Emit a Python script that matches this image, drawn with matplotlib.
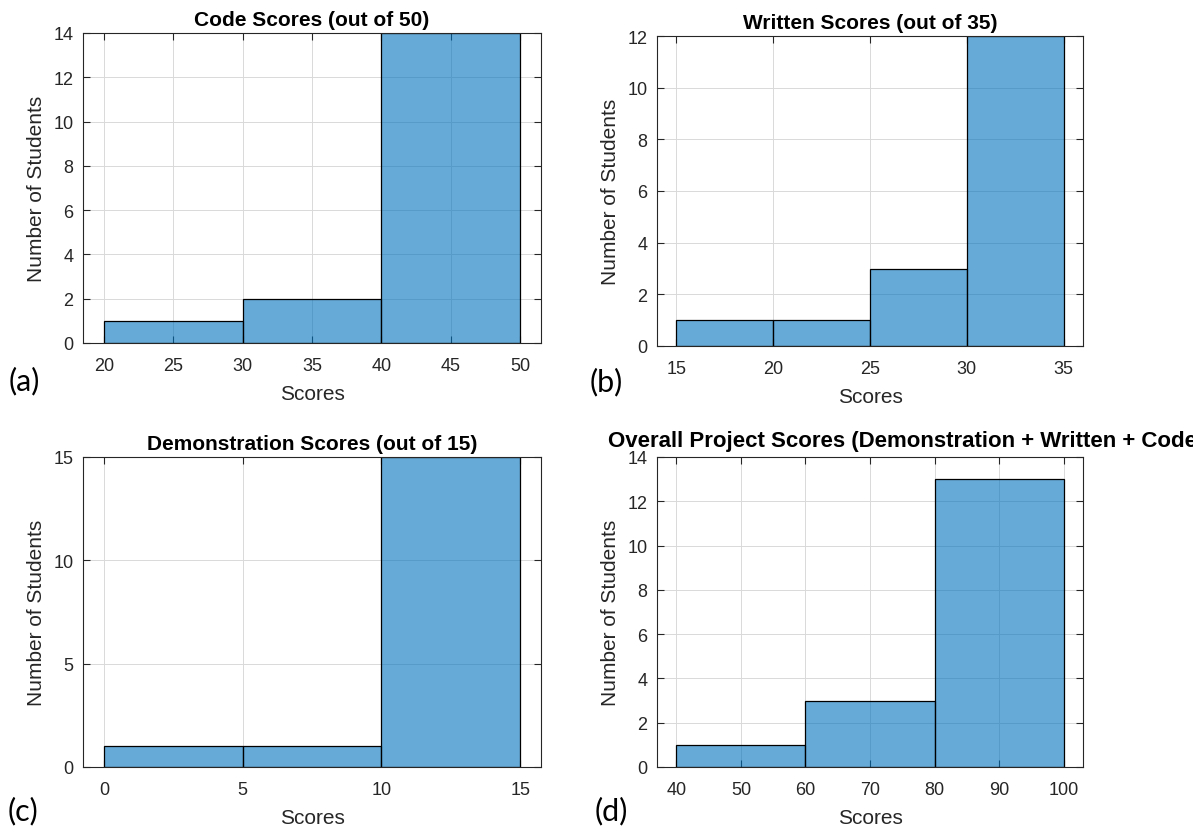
import numpy as np
import matplotlib
matplotlib.use("Agg")
import matplotlib.pyplot as plt

plt.rcParams['font.family'] = ['Liberation Sans', 'DejaVu Sans']

# histogram bin edges and counts
code_edges = [20, 30, 40, 50]
code_counts = [1, 2, 14]
written_edges = [15, 20, 25, 30, 35]
written_counts = [1, 1, 3, 12]
demo_edges = [0, 5, 10, 15]
demo_counts = [1, 1, 15]
overall_edges = [40, 60, 80, 100]
overall_counts = [1, 3, 13]

titles = ['Code Scores (out of 50)',
          'Written Scores (out of 35)',
          'Demonstration Scores (out of 15)',
          'Overall Project Scores (Demonstration + Written + Code)']
letters = ['(a)', '(b)', '(c)', '(d)']
xticks = [np.arange(20, 51, 5), np.arange(15, 36, 5), np.arange(0, 16, 5), np.arange(40, 101, 10)]
yticks = [np.arange(0, 15, 2), np.arange(0, 13, 2), np.arange(0, 16, 5), np.arange(0, 15, 2)]
edges_all = [code_edges, written_edges, demo_edges, overall_edges]
counts_all = [code_counts, written_counts, demo_counts, overall_counts]

W, H = 1193, 828
fig = plt.figure(figsize=(W / 100, H / 100), dpi=100)

# axes boxes in pixels: left, top, right, bottom
boxes = [(83, 34, 541, 344), (657, 37, 1083, 347), (83, 458, 541, 768), (657, 458, 1083, 768)]
letter_pos = [(9, 390), (590, 391), (8, 820), (595, 820)]

face = (0.0, 0.447, 0.741, 0.6)
txt = '#262626'

for i in range(4):
    l, t, r, b = boxes[i]
    ax = fig.add_axes([l / W, 1 - b / H, (r - l) / W, (b - t) / H])
    edges = np.array(edges_all[i])
    counts = counts_all[i]
    ax.bar(edges[:-1], counts, width=np.diff(edges), align='edge',
           color=face, edgecolor='black', linewidth=0.9, zorder=2)

    span = edges[-1] - edges[0]
    ax.set_xlim(edges[0] - 0.05 * span, edges[-1] + 0.05 * span)
    ax.set_ylim(yticks[i][0], yticks[i][-1])
    ax.set_xticks(xticks[i])
    ax.set_yticks(yticks[i])

    ax.grid(True, color='#d9d9d9', linewidth=0.7, zorder=0)
    ax.set_axisbelow(True)
    ax.tick_params(direction='in', top=True, right=True, length=5, width=0.8,
                   labelsize=13, colors=txt, labelcolor=txt)
    ax.tick_params(axis='x', pad=10)
    ax.tick_params(axis='y', pad=7)
    for s in ax.spines.values():
        s.set_color(txt)
        s.set_linewidth(0.8)

    ax.set_xlabel('Scores', fontsize=15, color=txt, labelpad=7)
    ax.set_ylabel('Number of Students', fontsize=15, color=txt, labelpad=5)

    if i < 3:
        ax.set_title(titles[i], fontsize=15, fontweight='bold', pad=6)
    else:
        # this title runs off the right edge of the figure in the original
        fig.text(608 / W, 1 - (t - 6) / H, titles[i], fontsize=16, fontweight='bold',
                 ha='left', va='bottom')

    lx, ly = letter_pos[i]
    fig.text(lx / W, 1 - ly / H, letters[i], fontsize=22, family=['Lato', 'DejaVu Sans'],
             ha='left', va='baseline', color='black')

fig.savefig('out.png', dpi=100, facecolor='white')
